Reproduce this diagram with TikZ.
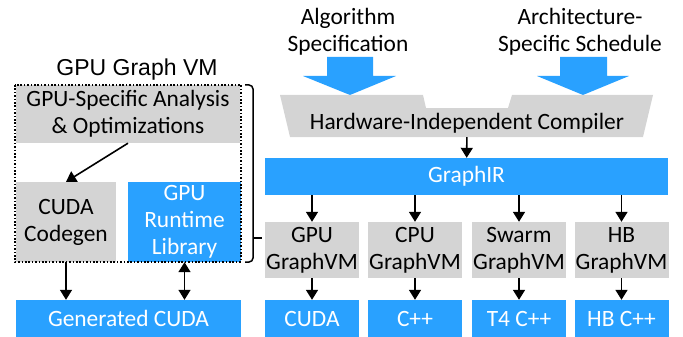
\documentclass[tikz,border=0pt]{standalone}
\usepackage{fontspec}
\setmainfont{Carlito}
\newfontfamily\arialfont{Liberation Sans}
\usetikzlibrary{arrows.meta}
\definecolor{vmblue}{RGB}{41,161,255}
\definecolor{vmgrey}{RGB}{212,212,212}
\tikzset{
  txt/.style={align=center, inner sep=0pt, font=\fontsize{23.4}{27}\selectfont},
  greybox/.style={txt, fill=vmgrey},
  bluebox/.style={txt, fill=vmblue, text=white},
  arr/.style={line width=1.6pt, -{Triangle[width=12pt,length=10pt]}},
  dblarr/.style={line width=1.6pt, {Triangle[width=12pt,length=10pt]}-{Triangle[width=12pt,length=10pt]}},
}
\begin{document}
\begin{tikzpicture}[x=1pt,y=-1pt]
\useasboundingbox (0,0) rectangle (683,337);

% inputs and big arrows
\node[txt] (algo) at (348,32) {Algorithm\\Specification};
\node[txt] (sched) at (580,32) {Architecture-\\Specific Schedule};
\fill[vmblue] (327,57) -- (373,57) -- (373,76) -- (396,76) -- (350,95) -- (303,76) -- (327,76) -- cycle;
\fill[vmblue] (560,57) -- (607,57) -- (607,76) -- (629,76) -- (583,95) -- (537,76) -- (560,76) -- cycle;

% compiler and GraphIR
\fill[vmgrey] (280,95) -- (423,95) -- (426,108) -- (508,108) -- (512,95) -- (653,95) -- (643,137) -- (290,137) -- cycle;
\node[txt, minimum height=28pt] (compiler) at (467,123) {Hardware-Independent Compiler};
\node[bluebox, minimum width=403pt, minimum height=37pt] (graphir) at (466.5,176.5) {GraphIR};
\draw[arr] (compiler) -- (graphir);

% backends
\foreach \x/\n/\a/\b in {312/gpu/GPU/CUDA, 415/cpu/CPU/C++, 519/swarm/Swarm/T4 C++, 621.5/hb/HB/HB C++} {
  \node[greybox, minimum width=94pt, minimum height=56pt] (vm\n) at (\x,250) {\a\\GraphVM};
  \node[bluebox, minimum width=94pt, minimum height=37pt] (out\n) at (\x,318.5) {\b};
  \draw[arr] (graphir.south -| vm\n) -- (vm\n);
  \draw[arr] (vm\n) -- (out\n);
}

% GPU graph VM detail
\node[font=\arialfont\fontsize{23}{27}\selectfont] (vmtitle) at (137,70) {GPU Graph VM};
\node[greybox, minimum width=224pt, minimum height=58pt] (analysis) at (128,114) {GPU-Specific Analysis\\\& Optimizations};
\node[greybox, minimum width=100pt, minimum height=80pt] (codegen) at (66,222) {CUDA\\Codegen};
\node[bluebox, minimum width=113pt, minimum height=80pt] (runtime) at (184.5,222) {GPU\\Runtime\\Library};
\draw[line width=1.6pt, dash pattern=on 1.6pt off 1.8pt] (15,85) rectangle (241,262);
\node[bluebox, minimum width=225pt, minimum height=37pt] (gencuda) at (128.5,318.5) {Generated CUDA};
\draw[arr] (analysis.south) -- (codegen.north);
\draw[arr] (codegen) -- (codegen |- gencuda.north);
\draw[dblarr] (runtime) -- (runtime |- gencuda.north);

% brace
\draw[line width=1.5pt, rounded corners=4pt] (245,85) -- (253,85) -- (253,262) -- (245,262);
\draw[line width=1.5pt] (253,238) -- (262,238);
\end{tikzpicture}
\end{document}
